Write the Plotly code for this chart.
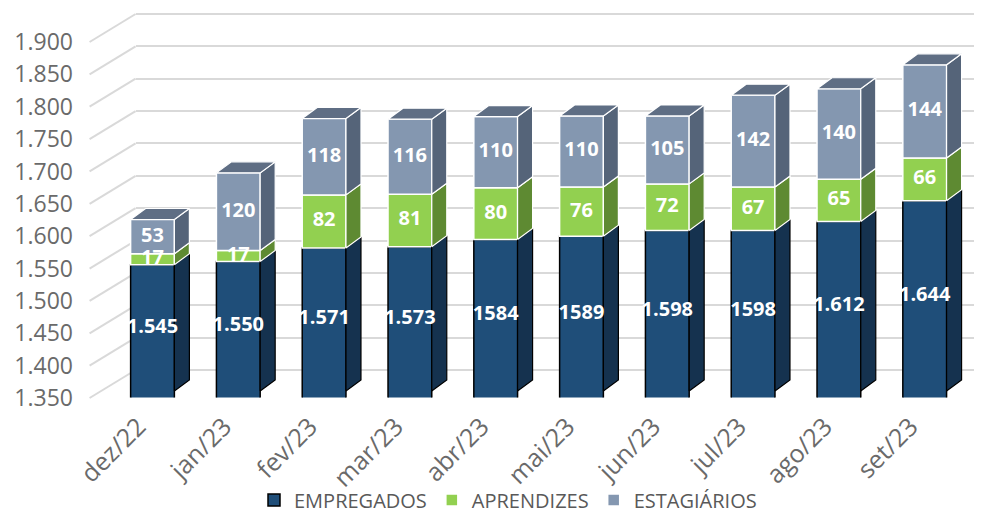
import plotly.graph_objects as go

# ---------------- data ----------------
categories = ["dez/22", "jan/23", "fev/23", "mar/23", "abr/23",
              "mai/23", "jun/23", "jul/23", "ago/23", "set/23"]
empregados = [1545, 1550, 1571, 1573, 1584, 1589, 1598, 1598, 1612, 1644]
aprendizes = [17, 17, 82, 81, 80, 76, 72, 67, 65, 66]
estagiarios = [53, 120, 118, 116, 110, 110, 105, 142, 140, 144]
empregados_labels = ["1.545", "1.550", "1.571", "1.573", "1584",
                     "1589", "1.598", "1598", "1.612", "1.644"]
series_names = ["EMPREGADOS", "APRENDIZES", "ESTAGIÁRIOS"]
y_axis_min, y_axis_max, y_axis_step = 1350, 1900, 50

# ---------------- styles / geometry ----------------
OFF = 8                                # page body margin (px)
FW, FH = 982 - OFF, 515 - OFF          # figure size
FONT = "Open Sans"
TXT = "#6A6A6A"
LEG_TXT = "#595959"
GRID = "#D9D9D9"
front_col = ["#1F4E79", "#92D050", "#8497B0"]
side_col = ["#15324F", "#5E8A32", "#556479"]
top_col = ["#15324F", "#6E9C3C", "#5F6E84"]
edge_col = ["#000000", "#FFFFFF", "#FFFFFF"]

RANGE = [y_axis_min - 10, y_axis_max + 10]
RANGE_BACK = [y_axis_min - 10, y_axis_max + 4]
FRONT_Y0, FRONT_Y1 = 398, 42          # screen px of min / max value on front plane
SCALE = (FRONT_Y0 - FRONT_Y1) / (y_axis_max - y_axis_min)
BACK_DX, BACK_DY = 35, 28             # back wall offset (px)
BAR_DX, BAR_DY = 9, 7                 # bar front offset (px)
STEP = 85.8                           # px per category
FIRST_CX = 152.5                      # screen px centre of first bar front
BW = 0.51                             # bar width (category units)
DEPTH_X = 15 / STEP                   # side depth in category units
DEPTH_Y = 11 / SCALE                  # side depth in value units


def fx(px):
    return (px - OFF) / FW


def fy(py_):
    return 1 - (py_ - OFF) / FH


def py(v, shift):
    return FRONT_Y0 - (v - y_axis_min) * SCALE - shift


def ydom(shift, rng):
    return [fy(py(rng[0], shift)), fy(py(rng[1], shift))]


n = len(categories)
bar_x0 = FIRST_CX - STEP / 2
bar_x1 = bar_x0 + STEP * n
xdom_bars = [fx(bar_x0), fx(bar_x1)]
xdom_lbl = [fx(bar_x0 - BAR_DX - 5), fx(bar_x1 - BAR_DX - 5)]
xdom_back = [fx(bar_x0 - BAR_DX + BACK_DX), 1.0]

idx = list(range(n))
series = [empregados, aprendizes, estagiarios]

fig = go.Figure()

# back wall grid holder (primary axes)
fig.add_trace(go.Scatter(x=[0], y=[y_axis_min], mode="markers",
                         marker=dict(opacity=0), hoverinfo="skip",
                         showlegend=False, xaxis="x", yaxis="y"))
# y tick label holder
fig.add_trace(go.Scatter(x=[0], y=[y_axis_min], mode="markers",
                         marker=dict(opacity=0), hoverinfo="skip",
                         showlegend=False, xaxis="x", yaxis="y3"))

# front faces (stacked bars)
bases = [0] * n
for k, (name, vals) in enumerate(zip(series_names, series)):
    fig.add_trace(go.Bar(
        x=idx, y=vals, name=name, width=BW,
        base=[b if b else None for b in bases] if k else None,
        marker=dict(color=front_col[k], line=dict(color=edge_col[k], width=1.5)),
        xaxis="x2", yaxis="y2", hoverinfo="skip"))
    bases = [b + v for b, v in zip(bases, vals)]

# side and top faces
bases = [0] * n
for k, vals in enumerate(series):
    sx, sy, tx, ty = [], [], [], []
    for i in idx:
        b = bases[i] if bases[i] else y_axis_min
        t = bases[i] + vals[i]
        xr = i + BW / 2
        sx += [xr, xr + DEPTH_X, xr + DEPTH_X, xr, xr, None]
        sy += [b, b + DEPTH_Y, t + DEPTH_Y, t, b, None]
        if k == len(series) - 1:
            xl = i - BW / 2
            tx += [xl, xr, xr + DEPTH_X, xl + DEPTH_X, xl, None]
            ty += [t, t, t + DEPTH_Y, t + DEPTH_Y, t, None]
    fig.add_trace(go.Scatter(x=sx, y=sy, mode="lines", fill="toself",
                             fillcolor=side_col[k],
                             line=dict(color=edge_col[k], width=1.2),
                             hoverinfo="skip", showlegend=False,
                             xaxis="x2", yaxis="y2"))
    if tx:
        fig.add_trace(go.Scatter(x=tx, y=ty, mode="lines", fill="toself",
                                 fillcolor=top_col[k],
                                 line=dict(color=edge_col[k], width=1.2),
                                 hoverinfo="skip", showlegend=False,
                                 xaxis="x2", yaxis="y2"))
    bases = [b + v for b, v in zip(bases, vals)]

# data labels
bases = [0] * n
label_sets = [empregados_labels, [str(v) for v in aprendizes],
              [str(v) for v in estagiarios]]
for k, vals in enumerate(series):
    ymid = []
    for i in idx:
        lo = bases[i] if bases[i] else y_axis_min
        hi = bases[i] + vals[i]
        ymid.append((lo + hi) / 2)
    fig.add_trace(go.Scatter(x=idx, y=ymid, mode="text", text=label_sets[k],
                             textfont=dict(family=FONT, size=20, color="white",
                                           weight="bold"),
                             hoverinfo="skip", showlegend=False,
                             xaxis="x2", yaxis="y2"))
    bases = [b + v for b, v in zip(bases, vals)]

# category label holder
fig.add_trace(go.Scatter(x=[0], y=[y_axis_min], mode="markers",
                         marker=dict(opacity=0), hoverinfo="skip",
                         showlegend=False, xaxis="x3", yaxis="y2"))

# perspective connector lines on the left
shapes = []
v = y_axis_min
while v <= y_axis_max:
    shapes.append(dict(type="line", xref="paper", yref="paper", layer="below",
                       x0=fx(bar_x0 - BAR_DX - 11), y0=fy(py(v, 0)),
                       x1=fx(bar_x0 - BAR_DX + BACK_DX), y1=fy(py(v, BACK_DY)),
                       line=dict(color=GRID, width=2)))
    v += y_axis_step

common_off = dict(showgrid=False, zeroline=False, showticklabels=False,
                  showline=False, ticks="")

fig.update_layout(
    width=FW, height=FH,
    margin=dict(l=0, r=0, t=0, b=0, autoexpand=False),
    paper_bgcolor="white", plot_bgcolor="rgba(0,0,0,0)",
    separators=",.",
    barmode="overlay",
    showlegend=True,
    shapes=shapes,
    font=dict(family=FONT, color=TXT),
    xaxis=dict(domain=xdom_back, range=[-0.5, 9.5], **common_off),
    yaxis=dict(domain=ydom(BACK_DY, RANGE_BACK), range=RANGE_BACK, showgrid=True,
               gridcolor=GRID, gridwidth=2, tick0=y_axis_min, dtick=y_axis_step,
               zeroline=False, showticklabels=False, showline=False, ticks=""),
    xaxis2=dict(domain=xdom_bars, range=[-0.5, 9.5], anchor="y2", **common_off),
    yaxis2=dict(domain=ydom(BAR_DY, RANGE), range=RANGE, anchor="x2", **common_off),
    yaxis3=dict(domain=ydom(0, RANGE), range=RANGE, anchor="free", position=fx(73),
                tick0=y_axis_min, dtick=y_axis_step, tickformat=",d",
                showgrid=False, zeroline=False, showline=False, ticks="",
                tickfont=dict(family=FONT, size=23, color=TXT)),
    xaxis3=dict(domain=xdom_lbl, range=[-0.5, 9.5], anchor="free",
                position=fy(406), tickmode="array", tickvals=idx,
                ticktext=categories, tickangle=-45, showgrid=False,
                zeroline=False, showline=False, ticks="",
                tickfont=dict(family=FONT, size=25, color=TXT)),
    legend=dict(orientation="h", x=fx(508), xanchor="center", y=fy(500),
                yanchor="middle", font=dict(family=FONT, size=20, color=LEG_TXT),
                bgcolor="rgba(0,0,0,0)", itemwidth=30),
)

fig.write_html("out.html")
